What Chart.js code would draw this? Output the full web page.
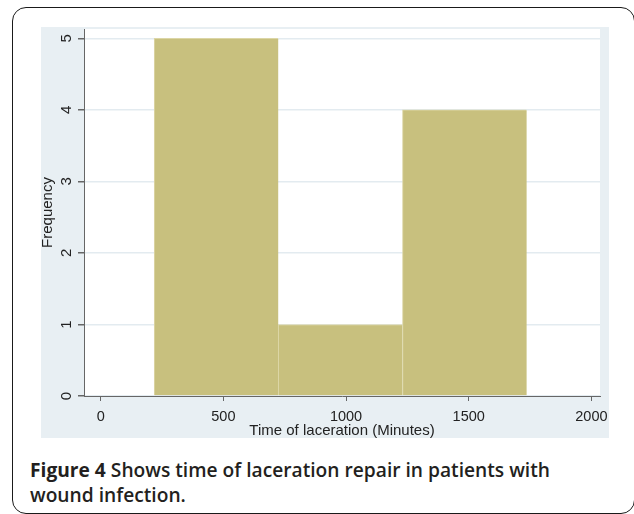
<!DOCTYPE html>
<html>
<head>
<meta charset="utf-8">
<script src="https://cdn.jsdelivr.net/npm/chart.js@4/dist/chart.umd.min.js"></script>
<style>
  html, body { margin: 0; padding: 0; background: #ffffff; width: 634px; height: 514px; overflow: hidden; }
  #frame { position: absolute; left: 12px; top: 7px; width: 623px; height: 507px; box-sizing: border-box;
           border: 1.5px solid #1a1a1a; border-radius: 14px; }
  #region { position: absolute; left: 41px; top: 27px; width: 568px; height: 411px; background: #e8eff3; }
  #chart { position: absolute; left: 0; top: 0; }
  #caption { position: absolute; left: 30px; top: 457px; width: 595px; font-family: "Open Sans", "Noto Sans", sans-serif;
             font-size: 19.2px; line-height: 25px; color: #231f20; font-weight: 600; white-space: nowrap; }
  #caption b { font-weight: 700; }
</style>
</head>
<body>
<div id="frame"></div>
<div id="region"><canvas id="chart" width="568" height="411"></canvas></div>
<div id="caption"><b>Figure 4</b> Shows time of laceration repair in patients with<br>wound infection.</div>
<script>
// ---- data ----
const binEdges = [218, 724, 1230, 1736];      // minutes
const frequencies = [5, 1, 4];
const xTickValues = [0, 500, 1000, 1500, 2000];
const yTickValues = [0, 1, 2, 3, 4, 5];
const xRange = [-68, 2035];
const yRange = [0, 5.13];
const xTitle = "Time of laceration (Minutes)";
const yTitle = "Frequency";

const points = frequencies.map((f, i) => ({ x: (binEdges[i] + binEdges[i + 1]) / 2, y: f }));

const plotBg = {
  id: 'plotBg',
  beforeDraw(chart) {
    const a = chart.chartArea, ctx = chart.ctx;
    ctx.save();
    ctx.fillStyle = '#ffffff';
    ctx.fillRect(a.left, a.top, a.right - a.left, a.bottom - a.top);
    ctx.restore();
  }
};

const rotatedYLabels = {
  id: 'rotatedYLabels',
  afterDraw(chart) {
    const s = chart.scales.y, ctx = chart.ctx;
    ctx.save();
    ctx.fillStyle = '#222';
    ctx.font = '15px "Liberation Sans", Arial, sans-serif';
    ctx.textAlign = 'center';
    ctx.textBaseline = 'middle';
    s.ticks.forEach(t => {
      const y = s.getPixelForValue(t.value);
      ctx.save();
      ctx.translate(s.right - 17.5, y);
      ctx.rotate(-Math.PI / 2);
      ctx.fillText(String(t.value), 0, 0);
      ctx.restore();
    });
    ctx.restore();
  }
};

new Chart(document.getElementById('chart'), {
  type: 'bar',
  data: {
    datasets: [{
      data: points,
      backgroundColor: '#c8c07e',
      borderColor: '#dcd6a6',
      borderWidth: { top: 1, left: 1, right: 0, bottom: 0 },
      borderSkipped: false,
      barThickness: 'flex',
      barPercentage: 1,
      categoryPercentage: 1
    }]
  },
  options: {
    responsive: false,
    animation: false,
    events: [],
    layout: { padding: { top: 2, right: 9, left: 0, bottom: 0 } },
    plugins: { legend: { display: false }, tooltip: { enabled: false } },
    scales: {
      x: {
        type: 'linear',
        min: xRange[0], max: xRange[1],
        offset: false,
        afterBuildTicks: s => { s.ticks = xTickValues.map(v => ({ value: v })); },
        afterFit: s => { s.height = 42; s.paddingLeft = 0; s.paddingRight = 0; },
        grid: { display: true, drawOnChartArea: false, drawTicks: true, tickLength: 5, tickColor: '#666', offset: false },
        border: { display: true, color: '#666', width: 1 },
        ticks: { color: '#222', padding: 7, maxRotation: 0, autoSkip: false,
                 callback: v => String(v),
                 font: { family: '"Liberation Sans", Arial, sans-serif', size: 14.5 } },
        title: { display: true, text: xTitle, color: '#222', padding: { top: 0, bottom: 0 },
                 font: { family: '"Liberation Sans", Arial, sans-serif', size: 15, lineHeight: 1 } }
      },
      y: {
        type: 'linear',
        min: yRange[0], max: yRange[1],
        afterBuildTicks: s => { s.ticks = yTickValues.map(v => ({ value: v })); },
        afterFit: s => { s.width = 43; s.paddingTop = 0; s.paddingBottom = 0; },
        grid: { display: true, color: '#e3ebf0', lineWidth: 1.5, drawTicks: true, tickLength: 6, tickColor: '#666' },
        border: { display: true, color: '#666', width: 1 },
        ticks: { display: false },
        title: { display: true, text: yTitle, color: '#222', padding: { top: -1, bottom: 0 },
                 font: { family: '"Liberation Sans", Arial, sans-serif', size: 15, lineHeight: 1 } }
      }
    }
  },
  plugins: [plotBg, rotatedYLabels]
});
</script>
</body>
</html>
